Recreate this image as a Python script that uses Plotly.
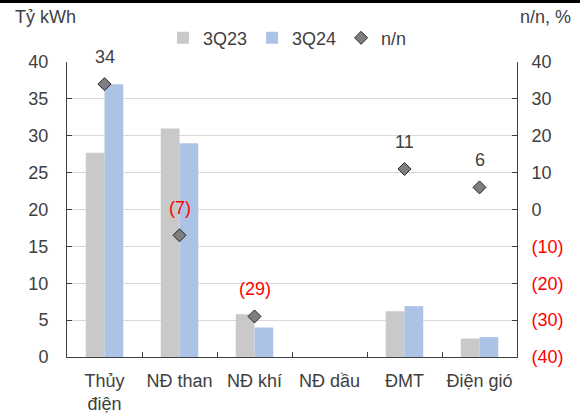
import plotly.graph_objects as go

# Sản lượng điện theo nguồn (tỷ kWh) và tăng trưởng n/n (%)
categories = ["Thủy<br>điện", "NĐ than", "NĐ khí", "NĐ dầu", "ĐMT", "Điện gió"]
q3_2023 = [27.7, 31.0, 5.8, 0.0, 6.2, 2.5]
q3_2024 = [37.0, 29.0, 4.0, 0.0, 6.9, 2.7]
yoy = [34, -7, -29, None, 11, 6]

left_ticks = [0, 5, 10, 15, 20, 25, 30, 35, 40]
right_ticks = [-40, -30, -20, -10, 0, 10, 20, 30, 40]

TXT = "#404040"
RED = "#ff0000"
FONT = "Liberation Sans"
FS = 18


def pct_text(v):
    return f"({abs(v)})" if v < 0 else str(v)


def pct_tick(v):
    if v < 0:
        return f"<span style='color:{RED}'>{pct_text(v)}</span>"
    return pct_text(v)


fig = go.Figure()
fig.add_trace(go.Bar(x=categories, y=q3_2023, name="3Q23",
                     marker=dict(color="#c9c9c9", line=dict(width=0))))
fig.add_trace(go.Bar(x=categories, y=q3_2024, name="3Q24",
                     marker=dict(color="#adc3e6", line=dict(width=0))))
fig.add_trace(go.Scatter(x=categories, y=yoy, name="n/n", yaxis="y2",
                         mode="markers",
                         marker=dict(symbol="diamond", size=10, color="#7f7f7f",
                                     line=dict(color="#262626", width=1))))

# Nhãn giá trị n/n phía trên điểm
for c, v in zip(categories, yoy):
    if v is None:
        continue
    fig.add_annotation(x=c, y=v, yref="y2", text=pct_text(v),
                       showarrow=False, yshift=27,
                       font=dict(family=FONT, size=FS, color=RED if v < 0 else TXT))

fig.add_annotation(text="Tỷ kWh", xref="paper", yref="paper", x=-0.12, y=1.1525,
                   xanchor="left", yanchor="middle", showarrow=False,
                   font=dict(family=FONT, size=FS, color=TXT))
fig.add_annotation(text="n/n, %", xref="paper", yref="paper", x=1.1244, y=1.1525,
                   xanchor="right", yanchor="middle", showarrow=False,
                   font=dict(family=FONT, size=FS, color=TXT))

# Viền đen phía trên
fig.add_shape(type="rect", xref="paper", yref="paper", x0=-0.2, x1=1.2,
              y0=1.2, y1=1.3, fillcolor="black", line=dict(width=0), layer="above")

fig.update_layout(
    width=580, height=414,
    margin=dict(l=67, r=63, t=62, b=57, autoexpand=False),
    paper_bgcolor="white", plot_bgcolor="white",
    font=dict(family=FONT, size=FS, color=TXT),
    barmode="group", bargap=0.5, bargroupgap=0.0,
    showlegend=True,
    legend=dict(orientation="h", x=0.49, xanchor="center", y=1.081, yanchor="middle",
                font=dict(family=FONT, size=FS, color=TXT),
                itemsizing="trace", itemwidth=30, tracegroupgap=0,
                bgcolor="rgba(0,0,0,0)"),
    xaxis=dict(type="category", showline=True, linecolor="#404040", linewidth=1,
               ticks="inside", ticklen=5, tickcolor="#404040", tickson="boundaries",
               showgrid=False, ticklabelstandoff=7, tickangle=0, automargin=False,
               tickfont=dict(family=FONT, size=FS, color=TXT)),
    yaxis=dict(range=[0, 40], tickvals=left_ticks, showline=True, linecolor="#404040",
               linewidth=1, ticks="inside", ticklen=5, tickcolor="#404040",
               showgrid=True, gridcolor="#d9d9d9", gridwidth=1, zeroline=False,
               ticklabelstandoff=14, automargin=False,
               tickfont=dict(family=FONT, size=FS, color=TXT)),
    yaxis2=dict(range=[-40, 40], overlaying="y", side="right",
                tickvals=right_ticks, ticktext=[pct_tick(v) for v in right_ticks],
                showline=True, linecolor="#404040", linewidth=1, ticks="inside",
                ticklen=5, tickcolor="#404040", showgrid=False, zeroline=False,
                ticklabelstandoff=10, automargin=False,
                tickfont=dict(family=FONT, size=FS, color=TXT)),
)

fig.write_html("out.html")
